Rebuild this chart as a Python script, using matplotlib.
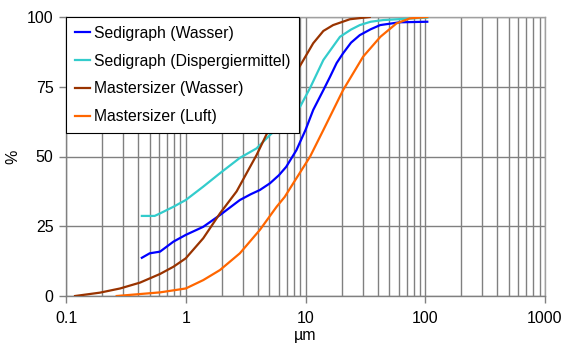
import matplotlib
matplotlib.use("Agg")
import matplotlib.pyplot as plt
from matplotlib.ticker import LogLocator, FixedLocator, NullFormatter

plt.rcParams['font.family'] = ['Liberation Sans', 'DejaVu Sans']

# Sedigraph (Wasser)
sw_x = [0.43, 0.50, 0.61, 0.79, 1.0, 1.4, 1.93, 2.83, 3.5, 4.16, 5.05, 6.0, 6.9, 8.4, 10.0, 11.6, 14.1, 16.0, 18.2, 20.6, 24.0, 28.4, 35.0, 42.0, 61.0, 104]
sw_y = [13.7, 15.3, 15.9, 19.5, 21.9, 24.8, 29.0, 34.4, 36.5, 38.0, 40.4, 43.3, 46.3, 52.3, 59.5, 66.7, 73.8, 78.5, 83.5, 87.0, 90.8, 93.5, 95.6, 97.1, 98.1, 98.3]

# Sedigraph (Dispergiermittel)
sd_x = [0.43, 0.55, 0.61, 0.79, 1.0, 1.4, 1.93, 2.83, 3.9, 5.05, 6.9, 9.0, 10.9, 14.1, 19.4, 24.0, 28.4, 35.0, 44.6, 104]
sd_y = [28.7, 28.7, 29.6, 32.0, 34.4, 39.2, 44.0, 49.5, 52.9, 57.7, 63.1, 67.8, 74.5, 84.6, 92.9, 95.5, 97.1, 98.3, 98.9, 99.8]

# Mastersizer (Wasser)
mw_x = [0.119, 0.192, 0.283, 0.415, 0.61, 0.79, 1.0, 1.4, 1.93, 2.66, 3.22, 3.9, 5.05, 6.5, 7.9, 9.0, 11.6, 14.1, 17.0, 23.5, 34.4]
mw_y = [0.0, 1.2, 2.7, 4.8, 7.9, 10.5, 13.5, 20.7, 29.6, 37.5, 44.0, 50.5, 60.5, 72.5, 78.5, 82.5, 90.6, 95.0, 97.1, 99.2, 100.0]

# Mastersizer (Luft)
ml_x = [0.265, 0.415, 0.61, 1.0, 1.4, 1.93, 2.83, 4.16, 5.74, 6.7, 7.9, 10.9, 14.1, 20.6, 30.3, 42.2, 57.5, 74.3, 104]
ml_y = [0.0, 0.7, 1.3, 2.7, 5.7, 9.3, 15.3, 23.7, 32.0, 35.5, 40.4, 49.9, 59.5, 73.8, 85.8, 92.9, 97.7, 99.5, 100.0]

labels = ['Sedigraph (Wasser)', 'Sedigraph (Dispergiermittel)', 'Mastersizer (Wasser)', 'Mastersizer (Luft)']
colors = ['#0000FF', '#33CCCC', '#993300', '#FF6600']
x_ticks = [0.1, 1, 10, 100, 1000]
x_ticklabels = ['0.1', '1', '10', '100', '1000']
y_ticks = [0, 25, 50, 75, 100]

fig = plt.figure(figsize=(5.70, 3.55), dpi=100)
ax = fig.add_axes([66/570, (355-296)/355, 479/570, 279/355])

series = [(sw_x, sw_y), (sd_x, sd_y), (mw_x, mw_y), (ml_x, ml_y)]
for (xs, ys), lab, c in zip(series, labels, colors):
    ax.plot(xs, ys, color=c, lw=1.6, label=lab, zorder=3)

ax.set_xscale('log')
ax.set_xlim(0.1, 1000)
ax.set_ylim(0, 100)
ax.xaxis.set_major_locator(FixedLocator(x_ticks))
ax.set_xticklabels(x_ticklabels)
ax.xaxis.set_minor_locator(LogLocator(base=10, subs=range(2, 10), numticks=20))
ax.xaxis.set_minor_formatter(NullFormatter())
ax.set_yticks(y_ticks)

ax.grid(True, which='both', axis='x', color='#808080', lw=1.0)
ax.grid(True, which='major', axis='y', color='#808080', lw=1.0)
ax.set_axisbelow(True)

for s in ['top', 'right']:
    ax.spines[s].set_color('#a0a0a0')
    ax.spines[s].set_linewidth(1.0)
for s in ['left', 'bottom']:
    ax.spines[s].set_color('#808080')
    ax.spines[s].set_linewidth(1.0)

ax.tick_params(axis='both', which='major', direction='out', length=5, width=1, color='#808080', labelsize=11.5, pad=4)
ax.tick_params(axis='x', which='minor', length=0)
ax.tick_params(axis='x', which='major', pad=6)

ax.set_xlabel('µm', fontsize=11.5, labelpad=1)
ax.set_ylabel('%', fontsize=11.5, labelpad=5)

leg = ax.legend(loc='upper left', bbox_to_anchor=(0.0, 1.0), borderaxespad=0.0,
                frameon=True, fancybox=False, edgecolor='black', framealpha=1,
                fontsize=11.3, handlelength=1.0, handletextpad=0.25, labelspacing=0.82,
                borderpad=0.55)
leg.get_frame().set_linewidth(0.8)
leg.set_zorder(5)

fig.savefig('out.png', dpi=100)
